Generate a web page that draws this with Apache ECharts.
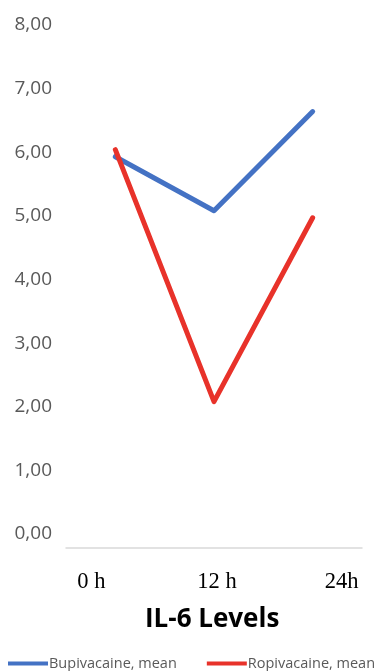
<!DOCTYPE html>
<html>
<head>
<meta charset="utf-8">
<script src="https://cdn.jsdelivr.net/npm/echarts@6/dist/echarts.min.js"></script>
<style>
  html, body { margin: 0; padding: 0; background: #fff; }
  #chart { width: 376px; height: 671px; }
</style>
</head>
<body>
<div id="chart"></div>
<script>
// Time points and IL-6 means per anaesthetic group
const timePoints = ['0 h', '12 h', '24h'];
const bupivacaineMean = [5.93, 5.08, 6.64];
const ropivacaineMean = [6.04, 2.08, 4.97];
const yTicks = [0, 1, 2, 3, 4, 5, 6, 7, 8];

const chart = echarts.init(document.getElementById('chart'), null, { renderer: 'canvas' });

const xLabelFont = { fontFamily: 'Liberation Serif', fontSize: 22.5, color: '#000' };

chart.setOption({
  animation: false,
  backgroundColor: '#ffffff',
  title: {
    text: 'IL-6 Levels',
    left: 145,
    top: 607,
    padding: 0,
    textStyle: { fontFamily: 'Open Sans', fontWeight: 'bold', fontSize: 26, color: '#000' }
  },
  legend: {
    left: 8,
    top: 656,
    width: 368,
    padding: 0,
    itemGap: 30,
    itemWidth: 40,
    itemHeight: 4,
    icon: 'rect',
    textStyle: { fontFamily: 'Open Sans', fontSize: 14.5, color: '#595959', padding: [0, 0, 0, -4] },
    data: ['Bupivacaine, mean', 'Ropivacaine, mean']
  },
  grid: { left: 66, right: 14, top: 25, bottom: 137, containLabel: false },
  xAxis: {
    type: 'category',
    data: timePoints,
    boundaryGap: true,
    offset: 14,
    axisLine: { onZero: false, lineStyle: { color: '#D9D9D9', width: 1.5 } },
    axisTick: { show: false },
    axisLabel: {
      interval: 0,
      margin: 23,
      formatter: function (v, i) {
        if (i === 0) return '{first|' + v + '}';
        if (i === timePoints.length - 1) return '{last|' + v + '}';
        return '{mid|' + v + '}';
      },
      rich: {
        first: Object.assign({ padding: [0, 48, 0, 0] }, xLabelFont),
        mid: Object.assign({ padding: [0, 0, 0, 6] }, xLabelFont),
        last: Object.assign({ padding: [0, 0, 0, 58] }, xLabelFont)
      }
    }
  },
  yAxis: {
    type: 'value',
    min: yTicks[0],
    max: yTicks[yTicks.length - 1],
    interval: 1,
    axisLine: { show: false },
    axisTick: { show: false },
    splitLine: { show: false },
    axisLabel: {
      margin: 14,
      fontFamily: 'Open Sans',
      fontSize: 19,
      color: '#595959',
      formatter: function (v) { return v.toFixed(2).replace('.', ','); }
    }
  },
  series: [
    {
      name: 'Bupivacaine, mean',
      type: 'line',
      data: bupivacaineMean,
      showSymbol: false,
      symbol: 'none',
      color: '#4472C4',
      lineStyle: { width: 5, color: '#4472C4', cap: 'round', join: 'round' }
    },
    {
      name: 'Ropivacaine, mean',
      type: 'line',
      data: ropivacaineMean,
      showSymbol: false,
      symbol: 'none',
      color: '#E8322A',
      lineStyle: { width: 5, color: '#E8322A', cap: 'round', join: 'round' }
    }
  ]
});
</script>
</body>
</html>
